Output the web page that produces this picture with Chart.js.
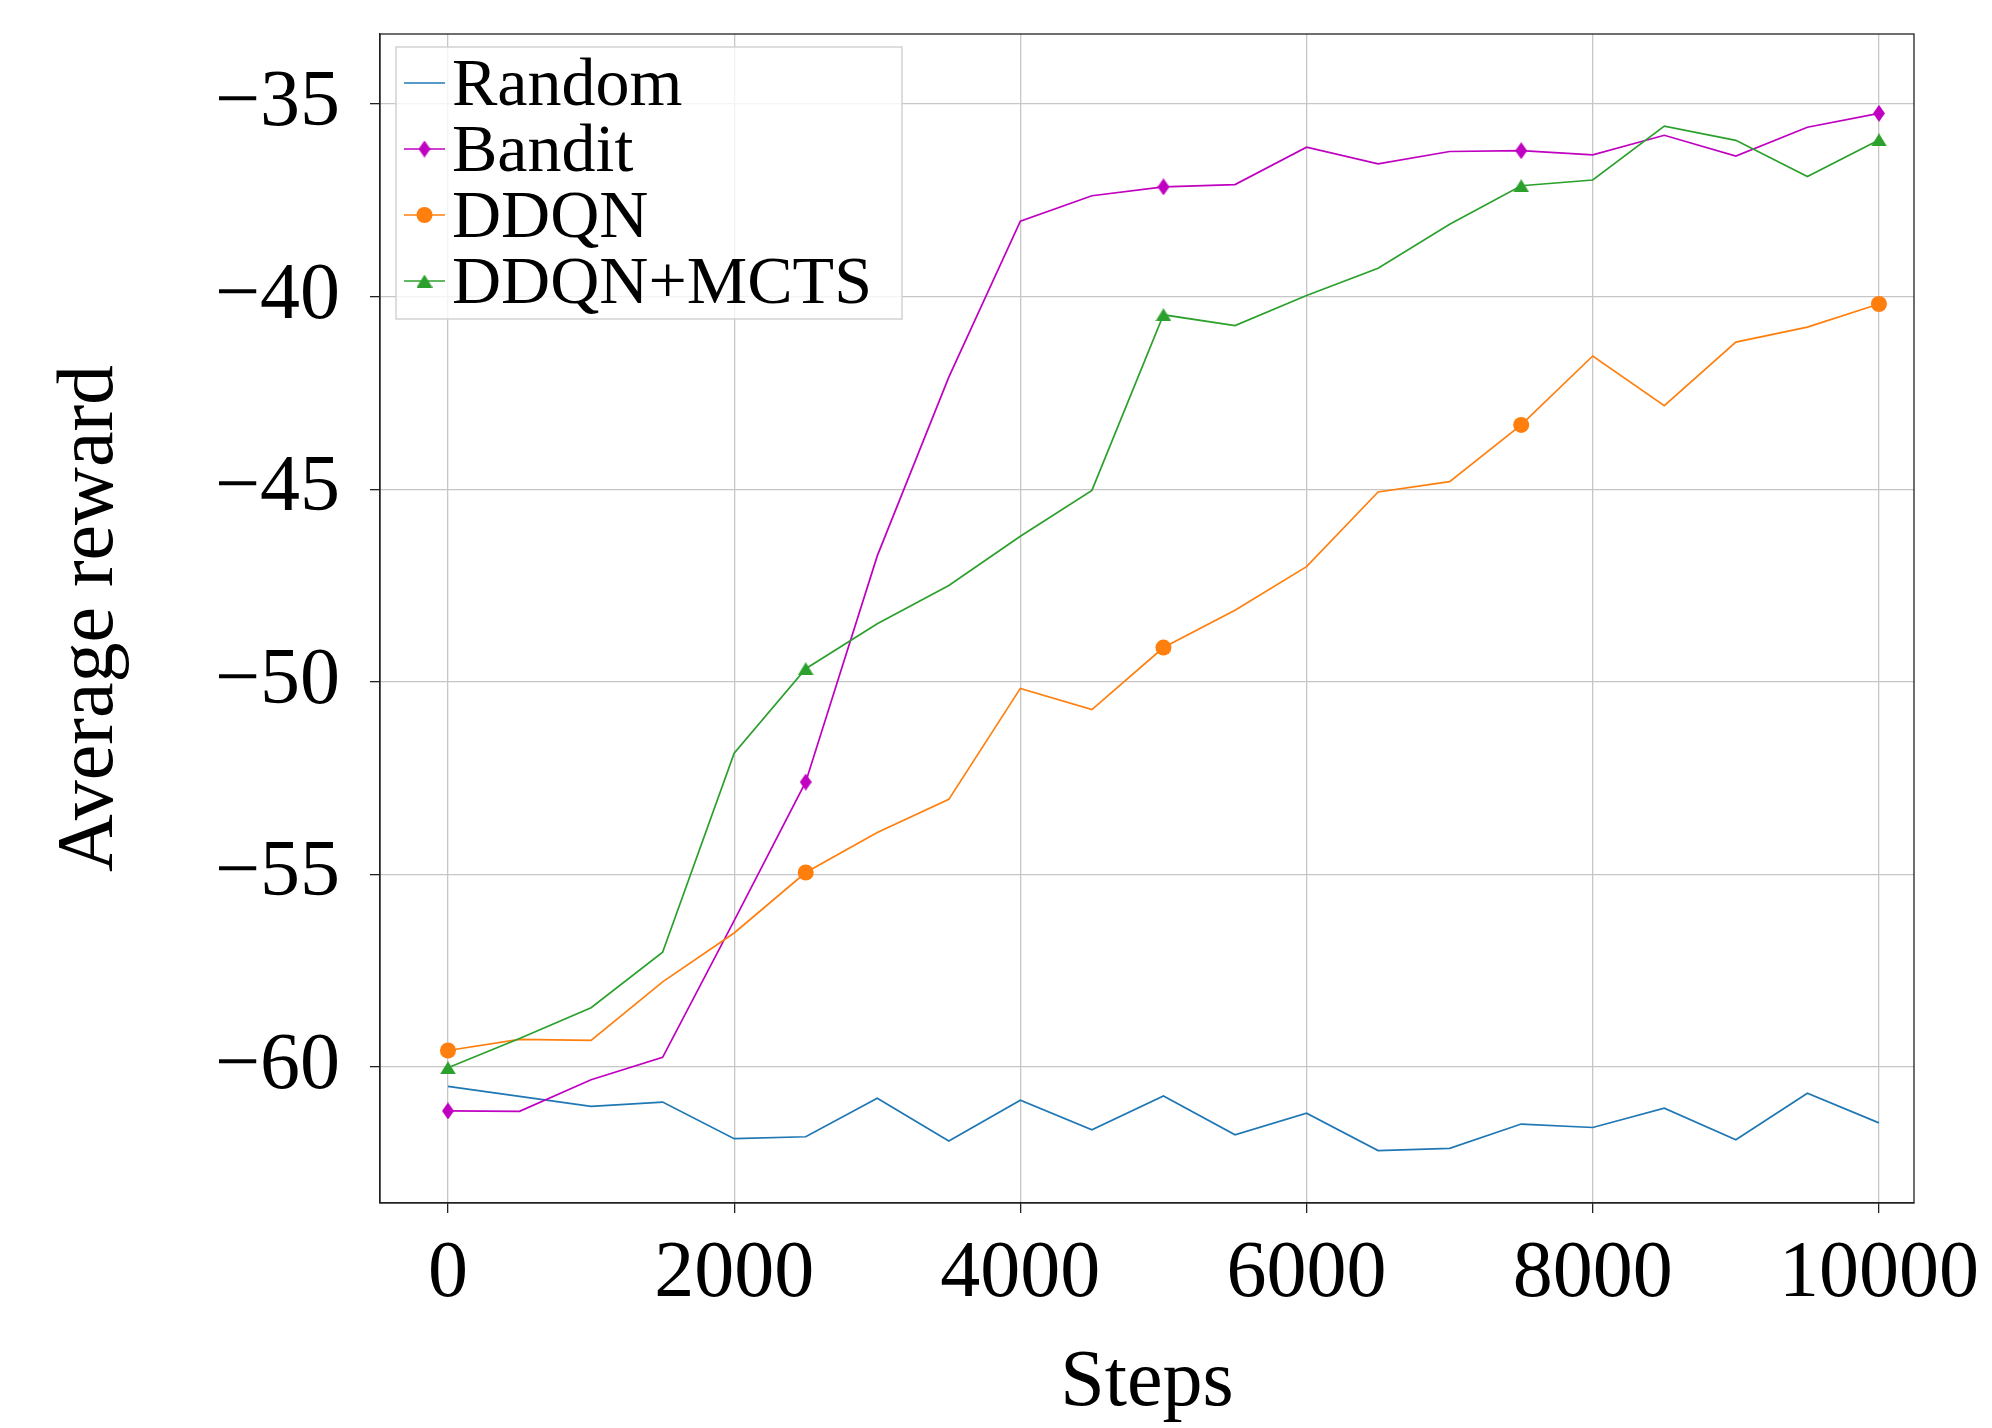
<!DOCTYPE html>
<html>
<head>
<meta charset="utf-8">
<script src="https://cdn.jsdelivr.net/npm/chart.js@4.4.1/dist/chart.umd.min.js"></script>
<style>
  html, body { margin: 0; padding: 0; background: #fff; }
  #wrap { width: 1992px; height: 1428px; }
</style>
</head>
<body>
<div id="wrap"><canvas id="chart" width="1992" height="1428"></canvas></div>
<script>
const STEPS = [0, 500, 1000, 1500, 2000, 2500, 3000, 3500, 4000, 4500, 5000,
  5500, 6000, 6500, 7000, 7500, 8000, 8500, 9000, 9500, 10000];
const RANDOM = [-60.5, -60.76, -61.02, -60.91, -61.86, -61.81, -60.81, -61.92, -60.86, -61.63, -60.75,
  -61.76, -61.2, -62.17, -62.11, -61.48, -61.57, -61.07, -61.89, -60.68, -61.45];
const BANDIT = [-61.14, -61.15, -60.33, -59.75, -56.2, -52.6, -46.73, -42.09, -38.04, -37.38, -37.15,
  -37.09, -36.12, -36.55, -36.23, -36.21, -36.32, -35.81, -36.35, -35.6, -35.24];
const DDQN = [-59.57, -59.28, -59.31, -57.79, -56.52, -54.95, -53.91, -53.05, -50.17, -50.72, -49.11,
  -48.14, -47.01, -45.07, -44.8, -43.33, -41.54, -42.83, -41.18, -40.79, -40.19];
const DDQN_MCTS = [-60.02, -59.26, -58.46, -57.02, -51.85, -49.66, -48.49, -47.5, -46.22, -45.03, -40.47,
  -40.75, -39.97, -39.26, -38.12, -37.12, -36.97, -35.57, -35.94, -36.88, -35.93];

const X_TICKS = [0, 2000, 4000, 6000, 8000, 10000];
const Y_TICKS = [-60, -55, -50, -45, -40, -35];
const LABELS = ['Random', 'Bandit', 'DDQN', 'DDQN+MCTS'];
const COLORS = ['#1f77b4', '#c000c0', '#ff7f0e', '#2ca02c'];

const FONT = "'Liberation Serif', 'DejaVu Serif', serif";
const MARK_EVERY = 5;

// small canvases used as point styles (matplotlib 'd' and '^')
function makeMarker(color, w, h, pts) {
  const c = document.createElement('canvas');
  c.width = w; c.height = h;
  const g = c.getContext('2d');
  g.fillStyle = color;
  g.beginPath();
  pts.forEach(([px, py], k) => (k ? g.lineTo(px * w, py * h) : g.moveTo(px * w, py * h)));
  g.closePath();
  g.fill();
  return c;
}
const diamond = makeMarker(COLORS[1], 12, 17, [[0.5, 0], [1, 0.5], [0.5, 1], [0, 0.5]]);
const triangle = makeMarker(COLORS[3], 16, 13, [[0.5, 0], [1, 1], [0, 1]]);

const markerStyle = ['circle', diamond, 'circle', triangle];
const markerRadius = [0, 8, 8, 8];
const seriesData = [RANDOM, BANDIT, DDQN, DDQN_MCTS];

const datasets = LABELS.map((label, i) => ({
  label,
  data: STEPS.map((x, j) => ({ x, y: seriesData[i][j] })),
  borderColor: COLORS[i],
  backgroundColor: COLORS[i],
  borderWidth: 1.7,
  pointStyle: markerStyle[i],
  pointRadius: (ctx) => (ctx.dataIndex % MARK_EVERY === 0 ? markerRadius[i] : 0),
  pointBorderWidth: 0,
  pointHoverRadius: 0,
  tension: 0,
  order: LABELS.length - i,
}));

function drawLegendMarker(ctx, i, x, y) {
  const st = markerStyle[i];
  if (i === 0) return;
  if (typeof st === 'string') {
    ctx.fillStyle = COLORS[i];
    ctx.beginPath();
    ctx.arc(x, y, markerRadius[i], 0, Math.PI * 2);
    ctx.fill();
  } else {
    ctx.drawImage(st, x - st.width / 2, y - st.height / 2);
  }
}

const framePlugin = {
  id: 'frame',
  afterDraw(chart) {
    const { ctx, chartArea: a } = chart;
    ctx.save();
    ctx.strokeStyle = '#222';
    ctx.lineWidth = 1.3;
    ctx.strokeRect(a.left, a.top, a.right - a.left, a.bottom - a.top);

    // legend box
    const lx = 396, ly = 47, lw = 506, lh = 272;
    ctx.fillStyle = 'rgba(255,255,255,0.8)';
    ctx.fillRect(lx, ly, lw, lh);
    ctx.strokeStyle = '#d2d2d2';
    ctx.lineWidth = 1.5;
    ctx.strokeRect(lx, ly, lw, lh);
    ctx.font = '68px ' + FONT;
    ctx.textBaseline = 'alphabetic';
    ctx.textAlign = 'left';
    LABELS.forEach((label, i) => {
      const y = 83 + i * 66;
      ctx.strokeStyle = COLORS[i];
      ctx.lineWidth = 1.7;
      ctx.beginPath();
      ctx.moveTo(404, y);
      ctx.lineTo(445, y);
      ctx.stroke();
      drawLegendMarker(ctx, i, 424.5, y);
      ctx.fillStyle = '#000';
      ctx.fillText(label, 452, y + 22);
    });
    ctx.restore();
  },
};

new Chart(document.getElementById('chart'), {
  type: 'line',
  data: { datasets },
  options: {
    responsive: false,
    devicePixelRatio: 1,
    animation: false,
    layout: { padding: { top: 34, right: 78, bottom: 0, left: 0 } },
    plugins: { legend: { display: false }, tooltip: { enabled: false } },
    scales: {
      x: {
        type: 'linear',
        min: -475,
        max: 10245,
        afterBuildTicks: (s) => { s.ticks = X_TICKS.map((v) => ({ value: v })); },
        afterFit: (s) => { s.height = 225; s.paddingLeft = 0; s.paddingRight = 0; },
        grid: { color: '#c6c6c6', lineWidth: 1.3, tickLength: 10, tickColor: '#222', tickWidth: 1.3 },
        border: { color: '#222', width: 1.3 },
        ticks: {
          color: '#000', padding: 14, maxRotation: 0, autoSkip: false,
          font: { family: FONT, size: 80 },
          callback: (v) => String(v),
        },
        title: {
          display: true, text: 'Steps', color: '#000',
          font: { family: FONT, size: 80, lineHeight: 1 },
          padding: { top: 0, bottom: 4 },
        },
      },
      y: {
        type: 'linear',
        min: -63.53,
        max: -33.18,
        afterBuildTicks: (s) => { s.ticks = Y_TICKS.map((v) => ({ value: v })); },
        afterFit: (s) => { s.width = 380; s.paddingTop = 0; s.paddingBottom = 0; },
        grid: { color: '#c6c6c6', lineWidth: 1.3, tickLength: 10, tickColor: '#222', tickWidth: 1.3 },
        border: { color: '#222', width: 1.3 },
        ticks: {
          color: '#000', padding: 30,
          font: { family: FONT, size: 80 },
          callback: (v) => '\u2212' + Math.abs(v),
        },
        title: {
          display: true, text: 'Average reward', color: '#000',
          font: { family: FONT, size: 80, lineHeight: 1 },
          padding: { top: 51, bottom: 0 },
        },
      },
    },
  },
  plugins: [framePlugin],
});
</script>
</body>
</html>
